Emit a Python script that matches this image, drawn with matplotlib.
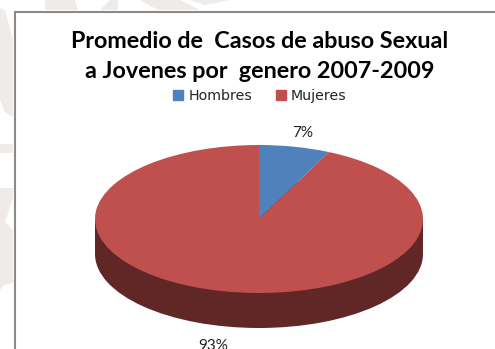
import matplotlib
matplotlib.use('Agg')
import matplotlib.pyplot as plt
from matplotlib.lines import Line2D
from matplotlib.patches import Rectangle, Patch, Polygon

labels = ['Hombres', 'Mujeres']
values = [7, 93]
colors = ['#4f81bd', '#c0504d']
dark = '#612726'
wm = '#eeebe8'

title_1 = 'Promedio de  Casos de abuso Sexual'
title_2 = 'a Jovenes por  genero 2007-2009'

W, H = 495, 349
cx, cy = 259, 219   # pie centre in pixels, y from top
rx, ry = 164, 74
depth = 35 / ry


def px_poly(pts):
    # pixel points, y from top, to a figure patch
    return Polygon([(x / W, 1 - y / H) for x, y in pts], transform=fig.transFigure, fc=wm, ec='none', zorder=0.5)


fig = plt.figure(figsize=(W / 100, H / 100), dpi=100, facecolor='white')

# faint watermark left over behind the chart, only seen in the margins
for pts in [
    [(0, 8), (5, 10), (13, 40), (13, 117), (5, 112), (0, 100)],
    [(0, 144), (13, 144), (13, 153), (0, 153)],
    [(0, 188), (13, 188), (13, 198), (5, 222), (13, 230), (13, 283), (4, 285), (0, 290)],
    [(45, 0), (75, 0), (78, 10), (45, 10)],
    [(100, 10), (110, 0), (118, 0), (118, 10)],
    [(140, 0), (180, 0), (200, 10), (158, 10)],
    [(190, 0), (230, 0), (205, 5)],
]:
    fig.add_artist(px_poly(pts))

ax = fig.add_axes([0, 0, 1, 1])
ax.patch.set_alpha(0)

# side of the disc first, then the top on it
ax.pie([100], colors=[dark], center=(0, -depth), radius=1, startangle=90)
ax.add_patch(Rectangle((-1, -depth), 2, depth, fc=dark, ec='none'))
ax.pie(values, colors=colors, startangle=90, counterclock=False, radius=1)

ax.set_aspect('auto')
ax.set_xlim(-cx / rx, (W - cx) / rx)
ax.set_ylim(-(H - cy) / ry, cy / ry)
ax.axis('off')

# frame of the chart, only left and top, it runs off right and bottom
fx, fy = 14.5 / W, 1 - 11.5 / H
fig.add_artist(Line2D([fx, fx, 1], [0, fy, fy], transform=fig.transFigure, color='#8a8a8a', lw=1.5, zorder=5,
                      solid_joinstyle='miter'))

fig.text(260 / W, 1 - 41.5 / H, title_1, ha='center', va='center', fontsize=16.8,
         fontweight='bold', family='Lato', color='black')
fig.text(260 / W, 1 - 71.5 / H, title_2, ha='center', va='center', fontsize=16.8,
         fontweight='bold', family='Lato', color='black')

fig.text(303 / W, 1 - 133 / H, '7%', ha='center', va='center', fontsize=11, family='Lato', color='#222222')
fig.text(213 / W, 1 - 346 / H, '93%', ha='center', va='center', fontsize=11, family='Lato', color='#222222')

handles = [Patch(color=c) for c in colors]
fig.legend(handles, labels, loc='center', bbox_to_anchor=(260 / W, 1 - 96 / H), ncol=2, frameon=False,
           prop={'family': 'DejaVu Sans', 'size': 10.2}, handlelength=0.7, handleheight=0.7,
           handletextpad=0.35, columnspacing=1.7, labelcolor='#222222')

fig.savefig('out.png', dpi=100)
